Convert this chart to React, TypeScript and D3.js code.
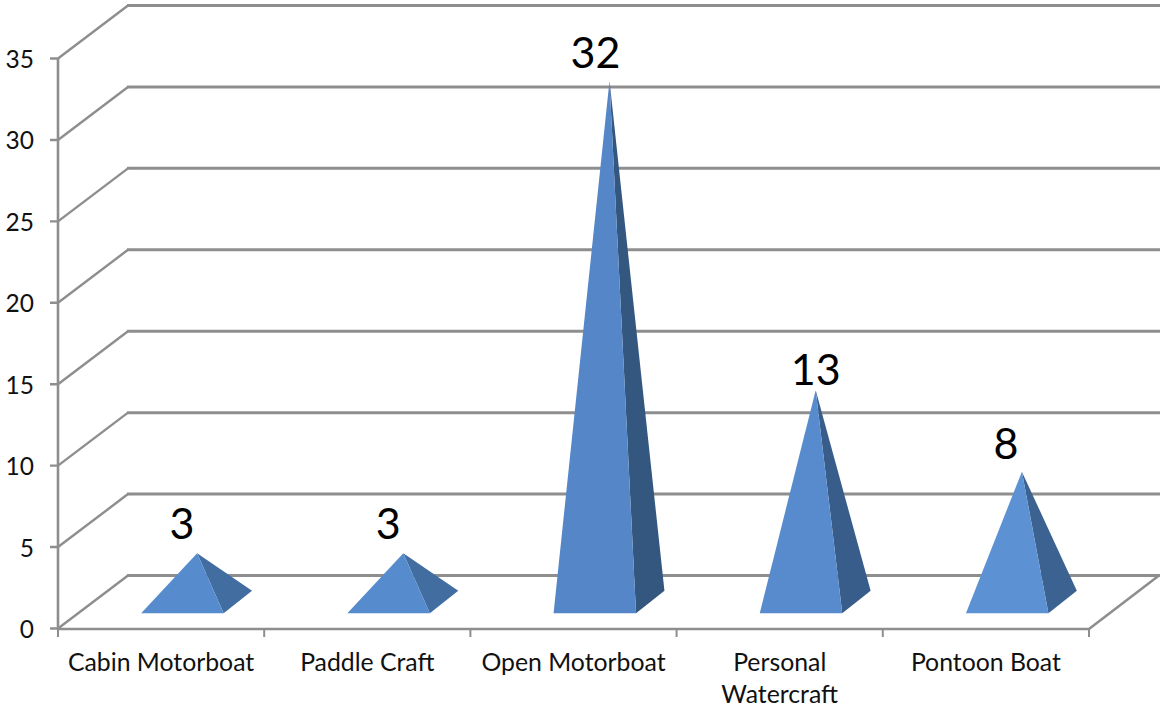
import React from "react";
import * as d3 from "d3";

const categories = ["Cabin Motorboat", "Paddle Craft", "Open Motorboat", "Personal Watercraft", "Pontoon Boat"];
const categoryLines = [["Cabin Motorboat"], ["Paddle Craft"], ["Open Motorboat"], ["Personal", "Watercraft"], ["Pontoon Boat"]];
const values = [3, 3, 32, 13, 8];
const yTicks = [0, 5, 10, 15, 20, 25, 30, 35];
const frontFill = ["#568CCD", "#568CCD", "#5587C8", "#578BCD", "#5C91D3"];
const sideFill = ["#426DA0", "#426DA0", "#33577F", "#395D8A", "#3B6291"];
const labelShiftX = [-15, -15, -14, 0, -16];
const labelShiftY = [-14, -14, -13, -5, -13];

const W = 1162, H = 709;
const font = "Lato, 'Open Sans', sans-serif";
const grid = "#8E8E8E";
const depthX = 70, depthY = 53;

const x = d3.scaleBand<string>().domain(categories).range([58, 1089]);
const y = d3.scaleLinear().domain([0, 35]).range([628.5, 58.5]);
const project = (px: number, v: number, d: number): [number, number] => [px + d * depthX, y(v) - d * depthY];
const path = d3.line();

export default function App() {
  const band = x.bandwidth();
  return (
    <svg width={W} height={H} viewBox={`0 0 ${W} ${H}`} style={{ position: "absolute", left: 0, top: 0, display: "block" }}>
      <rect width={W} height={H} fill="#fff" />
      {yTicks.map((t) => (
        <g key={t}>
          <path d={path([[50, y(t)], project(58, t, 0), project(58, t, 1)])!} fill="none" stroke={grid} strokeWidth={2.4} />
          <line x1={project(58, t, 1)[0] - 1} y1={project(58, t, 1)[1]} x2={project(1090, t, 1)[0]} y2={project(1090, t, 1)[1]} stroke={grid} strokeWidth={3} />
          <text x={34} y={y(t) + 9.5} textAnchor="end" fontFamily={font} fontSize={24.5} fill="#111">{t}</text>
        </g>
      ))}
      <line x1={58} y1={y(0)} x2={58} y2={y(35)} stroke={grid} strokeWidth={2.6} />
      <path d={path([[58, 629], [1089, 629], project(1089, 0, 1)])!} fill="none" stroke={grid} strokeWidth={2.6} />
      {[...categories.map((c) => x(c)!), 1089].map((px, i) => (
        <line key={i} x1={px} y1={629} x2={px} y2={637} stroke={grid} strokeWidth={2} />
      ))}
      {categories.map((c, i) => {
        const cx = x(c)! + band / 2 + 1;
        const half = band * 0.2;
        const lf = project(cx - half, 0, 0.29);
        const rf = project(cx + half, 0, 0.29);
        const rb = project(cx + half - 1, 0, 0.71);
        const apex = project(cx, values[i], 0.5);
        return (
          <g key={c}>
            <path d={path([rf, rb, apex])! + "Z"} fill={sideFill[i]} />
            <path d={path([lf, rf, apex])! + "Z"} fill={frontFill[i]} />
            <text x={apex[0] + labelShiftX[i]} y={apex[1] + labelShiftY[i]} textAnchor="middle" fontFamily={font} fontSize={43} fill="#000">{values[i]}</text>
            {categoryLines[i].map((l, j) => (
              <text key={l} x={cx - 1} y={671 + j * 32} textAnchor="middle" fontFamily={font} fontSize={24.8} fill="#111">{l}</text>
            ))}
          </g>
        );
      })}
    </svg>
  );
}
